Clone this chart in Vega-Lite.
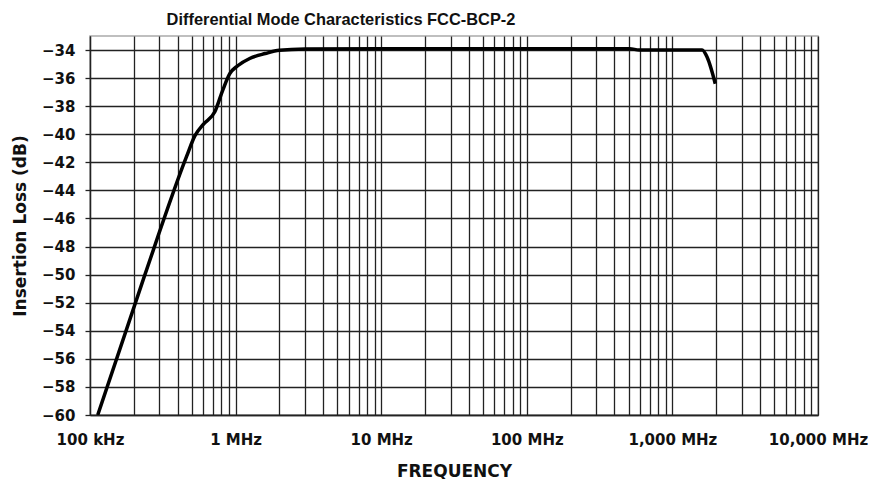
{
  "$schema": "https://vega.github.io/schema/vega-lite/v6.json",
  "width": 728,
  "height": 379,
  "autosize": {"type": "none"},
  "padding": {"left": 90, "top": 36, "right": 51, "bottom": 64},
  "background": "white",
  "title": {
    "text": "Differential Mode Characteristics FCC-BCP-2",
    "anchor": "middle",
    "frame": "group",
    "dx": -113,
    "offset": 8,
    "font": "Liberation Sans",
    "fontSize": 16.4,
    "fontWeight": "bold",
    "color": "#111"
  },
  "config": {
    "view": {"stroke": "#aaaaaa", "strokeWidth": 1.5},
    "axis": {
      "labelFont": "DejaVu Sans",
      "labelFontSize": 15,
      "labelFontWeight": "bold",
      "labelColor": "#111",
      "titleFont": "DejaVu Sans",
      "titleFontSize": 17,
      "titleFontWeight": "bold",
      "titleColor": "#111",
      "gridColor": "#222",
      "gridWidth": 1.3,
      "gridOpacity": 1,
      "domainColor": "#222",
      "domainWidth": 1.3,
      "tickColor": "#222",
      "tickWidth": 1.3
    }
  },
  "data": {
    "values": [
      {"freq_mhz": 0.113, "loss_db": -60},
      {"freq_mhz": 0.233, "loss_db": -50.3},
      {"freq_mhz": 0.46, "loss_db": -41.6},
      {"freq_mhz": 0.526, "loss_db": -40.1},
      {"freq_mhz": 0.6, "loss_db": -39.3},
      {"freq_mhz": 0.72, "loss_db": -38.4},
      {"freq_mhz": 0.82, "loss_db": -36.8},
      {"freq_mhz": 0.91, "loss_db": -35.7},
      {"freq_mhz": 1.04, "loss_db": -35.1},
      {"freq_mhz": 1.25, "loss_db": -34.6},
      {"freq_mhz": 1.6, "loss_db": -34.25},
      {"freq_mhz": 2.0, "loss_db": -34.02},
      {"freq_mhz": 3.0, "loss_db": -33.93},
      {"freq_mhz": 10, "loss_db": -33.9},
      {"freq_mhz": 100, "loss_db": -33.9},
      {"freq_mhz": 510, "loss_db": -33.9},
      {"freq_mhz": 590, "loss_db": -34.0},
      {"freq_mhz": 1600, "loss_db": -34.0},
      {"freq_mhz": 1730, "loss_db": -34.5},
      {"freq_mhz": 1970, "loss_db": -36.4}
    ]
  },
  "mark": {"type": "line", "color": "black", "strokeWidth": 3.5, "interpolate": "monotone", "clip": true},
  "encoding": {
    "x": {
      "field": "freq_mhz",
      "type": "quantitative",
      "title": "FREQUENCY",
      "scale": {"type": "log", "domain": [0.1, 10000], "nice": false},
      "axis": {
        "values": [0.1, 0.2, 0.3, 0.4, 0.5, 0.6, 0.7, 0.8, 0.9, 1, 2, 3, 4, 5, 6, 7, 8, 9, 10, 20, 30, 40, 50, 60, 70, 80, 90, 100, 200, 300, 400, 500, 600, 700, 800, 900, 1000, 2000, 3000, 4000, 5000, 6000, 7000, 8000, 9000, 10000],
        "labelExpr": "datum.value == 0.1 ? '100 kHz' : datum.value == 1 ? '1 MHz' : datum.value == 10 ? '10 MHz' : datum.value == 100 ? '100 MHz' : datum.value == 1000 ? '1,000 MHz' : datum.value == 10000 ? '10,000 MHz' : ''",
        "labelOverlap": false,
        "labelBound": false,
        "labelFlush": false,
        "ticks": false,
        "labelPadding": 17,
        "titlePadding": 16
      }
    },
    "y": {
      "field": "loss_db",
      "type": "quantitative",
      "title": "Insertion Loss (dB)",
      "scale": {"domain": [-60, -33], "nice": false, "zero": false},
      "axis": {
        "values": [-60, -58, -56, -54, -52, -50, -48, -46, -44, -42, -40, -38, -36, -34],
        "tickSize": 5,
        "labelPadding": 10,
        "titlePadding": 12,
        "labelFlush": false
      }
    }
  }
}
